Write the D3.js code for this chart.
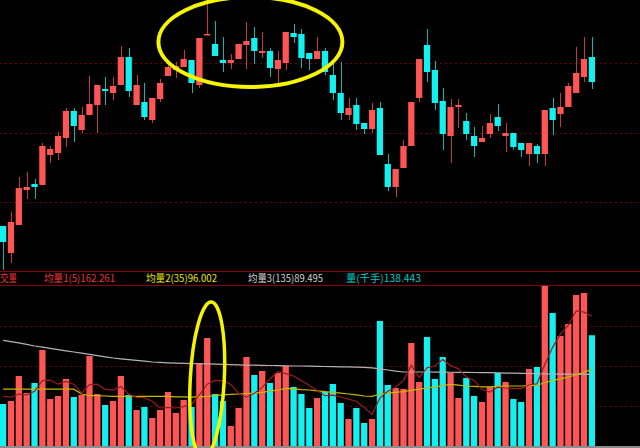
<!DOCTYPE html>
<html>
<head>
<meta charset="utf-8">
<script src="https://cdn.jsdelivr.net/npm/d3@7"></script>
<style>
  body { margin: 0; background: #000; }
  svg { display: block; }
</style>
</head>
<body>
<svg width="640" height="448"></svg>
<script>
// daily candles
var open  = [9.74, 9.47, 9.75, 10.10, 10.16, 10.15, 10.45, 10.47, 10.62, 10.89, 10.70, 10.85, 10.95, 11.11, 11.07, 11.15, 11.43, 10.95, 10.98, 10.80,
             11.01, 11.24, 11.30, 11.33, 11.40, 11.15, 11.66, 11.56, 11.40, 11.37, 11.41, 11.55, 11.62, 11.47, 11.49, 11.31, 11.37, 11.67, 11.66, 11.47,
             11.41, 11.49, 11.25, 11.07, 10.85, 10.95, 10.77, 10.71, 10.92, 10.36, 10.13, 10.32, 10.54, 11.02, 11.55, 11.30, 10.99, 10.64, 10.93, 10.79,
             10.64, 10.58, 10.66, 10.83, 10.64, 10.67, 10.57, 10.46, 10.54, 10.46, 10.92, 10.86, 10.93, 11.07, 11.23, 11.43];
var high  = [9.74, 9.88, 10.23, 10.28, 10.21, 10.57, 10.54, 10.68, 10.92, 10.92, 10.93, 11.24, 11.15, 11.23, 11.23, 11.54, 11.52, 11.25, 11.17, 11.02,
             11.21, 11.37, 11.38, 11.50, 11.40, 11.62, 12.00, 11.79, 11.63, 11.46, 11.56, 11.78, 11.73, 11.68, 11.52, 11.49, 11.68, 11.76, 11.71, 11.47,
             11.63, 11.52, 11.40, 11.38, 11.02, 11.02, 10.77, 10.97, 10.98, 10.46, 10.31, 10.60, 10.98, 11.41, 11.71, 11.39, 11.12, 11.01, 11.01, 10.87,
             10.73, 10.74, 10.86, 10.96, 10.77, 10.67, 10.57, 10.57, 10.56, 10.90, 11.02, 11.07, 11.17, 11.53, 11.63, 11.63];
var low   = [9.30, 9.37, 9.75, 10.01, 10.01, 10.15, 10.37, 10.40, 10.53, 10.58, 10.67, 10.85, 10.67, 10.95, 11.00, 11.15, 11.03, 10.95, 10.80, 10.77,
             10.98, 11.24, 11.22, 11.33, 11.07, 11.12, 11.65, 11.44, 11.28, 11.31, 11.41, 11.31, 11.36, 11.42, 11.23, 11.13, 11.30, 11.57, 11.32, 11.30,
             11.41, 11.25, 11.00, 10.80, 10.80, 10.70, 10.66, 10.67, 10.45, 10.09, 10.03, 10.32, 10.54, 10.98, 11.18, 10.90, 10.50, 10.37, 10.72, 10.60,
             10.43, 10.58, 10.62, 10.69, 10.48, 10.50, 10.43, 10.34, 10.37, 10.34, 10.65, 10.73, 10.93, 11.07, 11.18, 11.11];
var close = [9.58, 9.78, 10.12, 10.13, 10.13, 10.54, 10.51, 10.64, 10.89, 10.74, 10.85, 10.96, 11.15, 11.09, 11.14, 11.43, 11.09, 11.15, 10.83, 11.02,
             11.17, 11.33, 11.34, 11.41, 11.17, 11.62, 11.66, 11.44, 11.37, 11.40, 11.56, 11.59, 11.49, 11.49, 11.32, 11.40, 11.68, 11.63, 11.42, 11.41,
             11.49, 11.28, 11.07, 10.87, 10.92, 10.76, 10.71, 10.90, 10.45, 10.13, 10.31, 10.54, 10.98, 11.41, 11.28, 10.97, 10.66, 10.93, 10.95, 10.66,
             10.54, 10.62, 10.77, 10.74, 10.67, 10.53, 10.50, 10.57, 10.46, 10.90, 10.80, 10.93, 11.14, 11.27, 11.41, 11.18];

// volume (千手) and its averages
var volume = [52.5, 56.3, 87.5, 66.3, 78.8, 120.0, 58.8, 62.5, 83.8, 61.3, 63.8, 112.5, 65.0, 51.3, 56.3, 87.5, 63.8, 45.0, 48.8, 35.0,
              45.0, 67.5, 41.3, 57.5, 48.8, 103.8, 135.0, 65.0, 56.3, 25.0, 47.5, 111.3, 88.8, 93.8, 78.8, 91.3, 100.0, 73.8, 65.0, 47.5,
              60.0, 67.5, 77.5, 53.8, 33.8, 47.5, 28.8, 33.8, 156.3, 76.3, 72.5, 71.3, 128.8, 80.0, 136.3, 83.8, 111.3, 91.3, 60.0, 85.0,
              62.5, 55.0, 73.8, 91.3, 80.0, 58.8, 55.0, 96.3, 98.8, 200.0, 166.3, 137.5, 152.5, 188.8, 191.3, 138.443];
var ma5   = [62, 61, 65, 64, 68.3, 81.8, 82.3, 77.3, 80.8, 77.3, 66.0, 76.8, 77.3, 70.8, 69.8, 74.5, 64.8, 60.8, 60.3, 56.0,
             47.5, 48.3, 47.5, 49.3, 52.0, 63.8, 77.3, 82.0, 81.8, 77.0, 65.8, 61.0, 65.8, 73.3, 84.0, 92.8, 90.5, 87.5, 81.8, 75.5,
             69.3, 62.8, 63.5, 61.3, 58.5, 56.0, 48.3, 39.5, 60.0, 68.5, 73.5, 82.0, 101.0, 85.8, 97.8, 100.0, 108.0, 100.5, 96.5, 86.3,
             82.0, 70.8, 67.3, 73.5, 72.5, 71.8, 71.8, 76.3, 77.8, 101.8, 123.3, 139.8, 151.0, 169.0, 167.3, 162.261];
var ma35  = [71, 71, 71, 71, 71, 71, 71, 71, 71, 71, 65, 63, 63, 62.5, 62, 62, 62, 62, 62, 62,
             62, 62, 61.5, 61.5, 61, 61.5, 62, 63, 64, 64.5, 65, 65.5, 66, 67, 68.5, 70, 72, 71.5, 70.5, 70,
             69, 68, 67, 66, 65, 64, 62.5, 62, 65, 66, 67, 68, 69.5, 71, 72.5, 74, 75.5, 77, 76, 75,
             74.5, 74, 74, 74.5, 75, 75, 75, 75.5, 76, 79, 82, 84, 86, 89, 92, 96.002];
var ma135 = [132, 130.5, 129, 127, 125, 123.5, 122, 120.5, 119, 117.5, 116, 114.5, 113, 111.5, 110, 109, 108, 107, 106, 105,
             104.5, 104, 103.5, 103.2, 103, 102.8, 102.6, 102.4, 102, 101.8, 101.5, 101.2, 101, 100.8, 100.6, 100.4, 100.2, 100, 100, 99.8,
             99.6, 99.4, 99.2, 99, 99, 98.6, 98.2, 97.6, 96.5, 95, 93.5, 92.5, 92.5, 92.5, 92.5, 92.4, 92.3, 92.2, 92.1, 92,
             91.9, 91.8, 91.6, 91.4, 91.2, 91, 90.8, 90.6, 90.4, 90.2, 90, 89.9, 89.8, 89.7, 89.6, 89.495];

var priceGrid = [11.37, 10.67, 9.98];
var volGrid = [50, 100, 150];

var legendLabels = ["交量", "均量1(5)", "均量2(35)", "均量3(135)", "量(千手)"];
var legendValues = ["", "162.261", "96.002", "89.495", "138.443"];

var red = "#ff5555", cyan = "#12f0f0";

var svg = d3.select("svg");
var idx = open.map(function(d, i) { return i; });

var x = d3.scaleBand()
    .domain(idx)
    .range([-0.8, 595.8])
    .paddingInner(0.2)
    .paddingOuter(0.1);
var cx = function(i) { return Math.round(x(i) + x.bandwidth() / 2) + 0.5; };

var y = d3.scaleLinear().domain([9.28, 12.00]).range([272, 0]);
var yv = d3.scaleLinear().domain([0, 201.25]).range([446, 285]);

svg.append("rect").attr("width", 640).attr("height", 448).attr("fill", "#000");

// grid lines
svg.selectAll(".pgrid")
    .data(priceGrid)
    .enter().append("line")
    .attr("x1", 0).attr("x2", 640)
    .attr("y1", function(d) { return Math.round(y(d)) + 0.5; })
    .attr("y2", function(d) { return Math.round(y(d)) + 0.5; })
    .attr("stroke", "#6e0000")
    .attr("stroke-dasharray", "2,3");

svg.selectAll(".vgrid")
    .data(volGrid)
    .enter().append("line")
    .attr("x1", 0).attr("x2", 640)
    .attr("y1", function(d) { return Math.round(yv(d)) + 0.5; })
    .attr("y2", function(d) { return Math.round(yv(d)) + 0.5; })
    .attr("stroke", "#6e0000")
    .attr("stroke-dasharray", "2,3");

// panel borders
[271.5, 285.5].forEach(function(yy) {
    svg.append("line").attr("x1", 0).attr("x2", 640).attr("y1", yy).attr("y2", yy)
        .attr("stroke", "#8a0000");
});
svg.append("line").attr("x1", 0).attr("x2", 640).attr("y1", 447).attr("y2", 447)
    .attr("stroke", "#8c8c8c").attr("stroke-width", 2);

// candles
var candle = svg.append("g").selectAll("g")
    .data(idx)
    .enter().append("g");

candle.append("line")
    .attr("x1", cx).attr("x2", cx)
    .attr("y1", function(i) { return y(high[i]); })
    .attr("y2", function(i) { return y(low[i]); })
    .attr("stroke", function(i) { return close[i] >= open[i] ? "#c23a3a" : "#0fb5b5"; })
    .attr("stroke-width", 1);

candle.append("rect")
    .attr("x", function(i) { return x(i); })
    .attr("width", x.bandwidth())
    .attr("y", function(i) { return y(Math.max(open[i], close[i])); })
    .attr("height", function(i) { return Math.max(1.5, Math.abs(y(open[i]) - y(close[i]))); })
    .attr("fill", function(i) { return close[i] >= open[i] ? red : cyan; });

// volume bars
svg.append("g").selectAll("rect")
    .data(idx)
    .enter().append("rect")
    .attr("x", function(i) { return x(i); })
    .attr("width", x.bandwidth())
    .attr("y", function(i) { return yv(volume[i]); })
    .attr("height", function(i) { return yv(0) - yv(volume[i]); })
    .attr("fill", function(i) { return close[i] >= open[i] ? red : cyan; });

// average lines
var maLine = function(arr) {
    return d3.line()
        .x(function(i) { return x(i) + x.bandwidth() / 2; })
        .y(function(i) { return yv(arr[i]); })(idx);
};
[[ma135, "#b4b4b4"], [ma35, "#c8b800"], [ma5, "#9c1c1c"]].forEach(function(m) {
    svg.append("path")
        .attr("d", maLine(m[0]))
        .attr("fill", "none")
        .attr("stroke", m[1])
        .attr("stroke-width", 1.2);
});

// legend row
var legendX = [0, 44, 146, 248, 346];
var legendW = [17, 71, 71, 75, 75];
var legendC = ["#e83434", "#e83838", "#e6e600", "#d2d2d2", "#00c8c8"];
svg.selectAll(".legend")
    .data(legendLabels)
    .enter().append("text")
    .attr("x", function(d, i) { return legendX[i]; })
    .attr("y", 282)
    .attr("textLength", function(d, i) { return legendW[i]; })
    .attr("lengthAdjust", "spacingAndGlyphs")
    .attr("fill", function(d, i) { return legendC[i]; })
    .style("font-family", "'Noto Sans CJK SC', sans-serif")
    .style("font-size", "10px")
    .text(function(d, i) { return d + legendValues[i]; });

// hand drawn highlight rings, centred between bars (fractional index)
var ring = function(ci, cy, rx, ry, rot, w) {
    var k = Math.floor(ci);
    var px = x(k) + (ci - k) * x.step() + x.bandwidth() / 2;
    svg.append("ellipse")
        .attr("cx", px).attr("cy", cy)
        .attr("rx", rx).attr("ry", ry)
        .attr("transform", "rotate(" + rot + "," + px + "," + cy + ")")
        .attr("fill", "none")
        .attr("stroke", "#f5f500")
        .attr("stroke-width", w);
};
ring(31.5, y(11.58), 92, 45, 0, 4);
ring(26, yv(82.5), 17, 78, 3, 3.5);
</script>
</body>
</html>
